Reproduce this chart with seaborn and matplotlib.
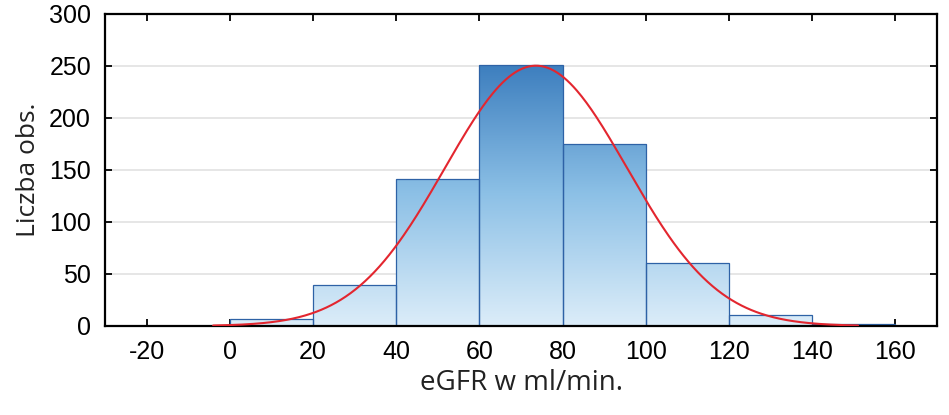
import numpy as np
import pandas as pd
import seaborn as sns
import matplotlib.pyplot as plt
from matplotlib.colors import LinearSegmentedColormap

# histogram bins (eGFR, ml/min) and counts
bin_edges = [-20, 0, 20, 40, 60, 80, 100, 120, 140, 160]
counts = [0, 7, 39, 141, 251, 175, 61, 11, 2]
x_ticks = [-20, 0, 20, 40, 60, 80, 100, 120, 140, 160]
y_ticks = [0, 50, 100, 150, 200, 250, 300]

# fitted normal curve parameters
fit_mean = 73.6
fit_sd = 21.9
fit_from, fit_to = -4, 151

sns.set_theme(style="white")
plt.rcParams['font.family'] = ['Liberation Sans', 'DejaVu Sans']
plt.rcParams['text.color'] = 'black'
plt.rcParams['axes.labelcolor'] = 'black'
plt.rcParams['xtick.color'] = 'black'
plt.rcParams['ytick.color'] = 'black'

fig = plt.figure(figsize=(9.49, 4.15), dpi=100)
ax = fig.add_axes([0.1106, 0.2145, 0.8768, 0.7518])

centers = [(a + b) / 2 for a, b in zip(bin_edges[:-1], bin_edges[1:])]
df = pd.DataFrame({'egfr': centers, 'n': counts})
sns.histplot(data=df, x='egfr', weights='n', bins=bin_edges, ax=ax,
             facecolor='none', edgecolor='#2e62a6', linewidth=0.9, alpha=1)

# vertical gradient inside each bar
cmap = LinearSegmentedColormap.from_list('bars', ['#dcedf9', '#8cc0e6', '#3a7cbd'])
grad = np.linspace(0, 1, 256).reshape(-1, 1)
for p in ax.patches:
    if p.get_height() <= 0:
        continue
    im = ax.imshow(grad, cmap=cmap, origin='lower', aspect='auto',
                   extent=[-30, 170, 0, 255], zorder=1)
    im.set_clip_path(p)
    p.set_zorder(2)

# normal curve
total = sum(counts)
width = bin_edges[1] - bin_edges[0]
xs = np.linspace(fit_from, fit_to, 400)
ys = total * width / (fit_sd * np.sqrt(2 * np.pi)) * np.exp(-0.5 * ((xs - fit_mean) / fit_sd) ** 2)
sns.lineplot(x=xs, y=ys, ax=ax, color='#e3262f', linewidth=1.5, zorder=3)

ax.set_xlim(-30, 170)
ax.set_ylim(0, 300)
ax.set_xticks(x_ticks)
ax.set_yticks(y_ticks)
ax.set_xticklabels([str(t) for t in x_ticks])
ax.set_yticklabels([str(t) for t in y_ticks])
ax.yaxis.grid(True, color='#e2e2e2', linewidth=1.2)
ax.set_axisbelow(True)
ax.tick_params(direction='in', length=5, width=1.3, color='black',
               top=True, right=True, bottom=True, left=True,
               labelsize=18, labelcolor='black', pad=10)
for s in ax.spines.values():
    s.set_color('black')
    s.set_linewidth(1.6)

ax.set_xlabel('eGFR w ml/min.', fontsize=20, color='#222222',
              family=['Open Sans', 'DejaVu Sans'], labelpad=4)
ax.set_ylabel('Liczba obs.', fontsize=19, color='#222222',
              family=['Open Sans', 'DejaVu Sans'], labelpad=6)

fig.savefig('out.png', dpi=100)
